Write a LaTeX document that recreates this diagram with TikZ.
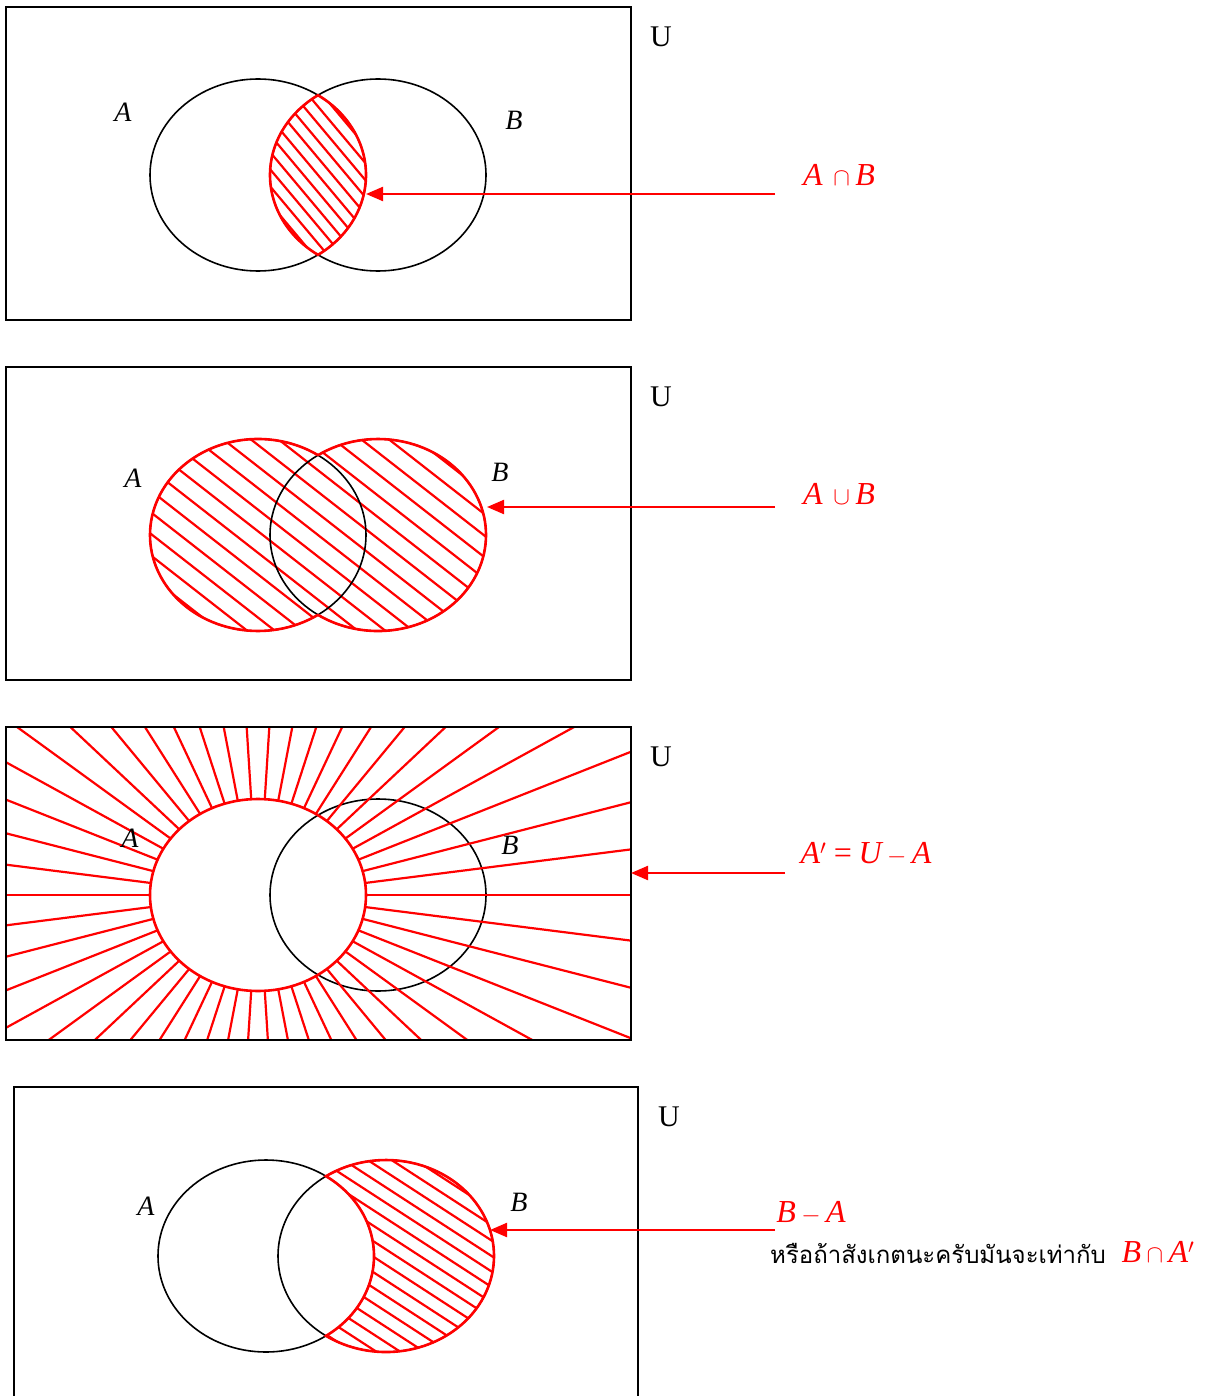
\documentclass[tikz,border=0pt]{standalone}
\usepackage{fontspec}
\setmainfont{Liberation Serif}
\newfontfamily\thaifont[Script=Thai]{Loma}
\usetikzlibrary{arrows.meta}
\tikzset{
  box/.style={draw=black,line width=1.8pt},
  setc/.style={draw=black,line width=1.6pt},
  redline/.style={draw=red,line width=2.6pt},
  hatch/.style={draw=red,line width=2.2pt,line cap=round},
  pointer/.style={draw=red,line width=2.2pt,-{Triangle[length=17pt,width=14pt]}},
  lbl/.style={font=\fontsize{28}{30}\selectfont\itshape},
  ulbl/.style={font=\fontsize{30}{32}\selectfont},
  rlbl/.style={text=red,font=\fontsize{32}{34}\selectfont\itshape,inner sep=0pt},
  thlbl/.style={font=\fontsize{24}{28}\selectfont\thaifont,inner sep=0pt},
}
\begin{document}
\begin{tikzpicture}[x=1pt,y=-1pt]
\useasboundingbox (0,0) rectangle (1222,1396);
\fill[white] (0,0) rectangle (1222,1396);

%================ Panel 1 : A cap B
\draw[box] (6,7) rectangle (631,320);
\coordinate (U1) at (6,7);
\draw[setc] (258,175) ellipse[x radius=108,y radius=96];
\draw[setc] (378,175) ellipse[x radius=108,y radius=96];
\begin{scope}
\clip (318,95.2) arc[start angle=-56.25,end angle=56.25,x radius=108,y radius=96]
      arc[start angle=123.75,end angle=236.25,x radius=108,y radius=96] -- cycle;
\foreach \k in {-16,...,16}
  \draw[hatch] ({318-\k*11*sin(50)},{175+\k*11*cos(50)}) ++(230:200) -- ++(50:400);
\end{scope}
\draw[redline] (318,95.2) arc[start angle=-56.25,end angle=56.25,x radius=108,y radius=96]
      arc[start angle=123.75,end angle=236.25,x radius=108,y radius=96] -- cycle;
\node[ulbl] (u1) at (661,37) {U};
\node[lbl] (a1) at (123,112) {A};
\node[lbl] (b1) at (514,120) {B};
\node[rlbl] (l1) at (839,175) {A\,\,$\cap$\,B};
\coordinate (s1) at (775,194);
\coordinate (e1) at (366,194);
\draw[pointer] (s1) -- (e1);

%================ Panel 2 : A cup B
\draw[box] (6,367) rectangle (631,680);
\begin{scope}
\clip (258,535) ellipse[x radius=108,y radius=96] (378,535) ellipse[x radius=108,y radius=96];
\foreach \k in {-22,...,22}
  \draw[hatch] ({318-\k*17*sin(38)},{535+\k*17*cos(38)}) ++(218:300) -- ++(38:600);
\end{scope}
\draw[setc] (258,535) ellipse[x radius=108,y radius=96];
\draw[setc] (378,535) ellipse[x radius=108,y radius=96];
\draw[redline] (318,614.8) arc[start angle=56.25,end angle=303.75,x radius=108,y radius=96];
\draw[redline] (318,455.2) arc[start angle=-123.75,end angle=123.75,x radius=108,y radius=96];
\node[ulbl] (u2) at (661,397) {U};
\node[lbl] (a2) at (133,478) {A};
\node[lbl] (b2) at (500,472) {B};
\node[rlbl] (l2) at (839,494) {A\,\,$\cup$\,B};
\coordinate (s2) at (775,507);
\coordinate (e2) at (487,507);
\draw[pointer] (s2) -- (e2);

%================ Panel 3 : A' = U - A
\draw[box] (6,727) rectangle (631,1040);
\draw[setc] (378,895) ellipse[x radius=108,y radius=96];
\begin{scope}
\clip (6,727) rectangle (631,1040);
\foreach \a in {0,7.2,...,353}
  \draw[hatch] ({258+108*cos(\a)},{895+96*sin(\a)}) -- ++(\a:700);
\end{scope}
\draw[redline] (258,895) ellipse[x radius=108,y radius=96];
\draw[box] (6,727) rectangle (631,1040);
\node[ulbl] (u3) at (661,757) {U};
\node[lbl] (a3) at (130,838) {A};
\node[lbl] (b3) at (510,845) {B};
\node[rlbl] (l3) at (866,854) {A$'$\,=\,U\,$-$\,A};
\coordinate (s3) at (785,873);
\coordinate (e3) at (631,873);
\draw[pointer] (s3) -- (e3);

%================ Panel 4 : B - A
\draw[box] (14,1400) -- (14,1087) -- (638,1087) -- (638,1400);
\draw[setc] (266,1256) ellipse[x radius=108,y radius=96];
\draw[setc] (386,1256) ellipse[x radius=108,y radius=96];
\begin{scope}
\clip (326,1176.2) arc[start angle=-123.75,end angle=123.75,x radius=108,y radius=96]
      arc[start angle=56.25,end angle=-56.25,x radius=108,y radius=96] -- cycle;
\foreach \k in {-18,...,18}
  \draw[hatch] ({420-\k*13*sin(33)},{1256+\k*13*cos(33)}) ++(213:300) -- ++(33:600);
\end{scope}
\draw[redline] (326,1176.2) arc[start angle=-123.75,end angle=123.75,x radius=108,y radius=96]
      arc[start angle=56.25,end angle=-56.25,x radius=108,y radius=96] -- cycle;
\node[ulbl] (u4) at (669,1117) {U};
\node[lbl] (a4) at (146,1206) {A};
\node[lbl] (b4) at (519,1202) {B};
\node[rlbl] (l4) at (811,1213) {B\,$-$\,A};
\node[thlbl,anchor=west] (th) at (770,1253) {หรือถ้าสังเกตนะครับมันจะเท่ากับ};
\node[rlbl] (l5) at (1158,1252) {B\,$\cap$\,A$'$};
\coordinate (s4) at (775,1230);
\coordinate (e4) at (490,1230);
\draw[pointer] (s4) -- (e4);
\end{tikzpicture}
\end{document}
